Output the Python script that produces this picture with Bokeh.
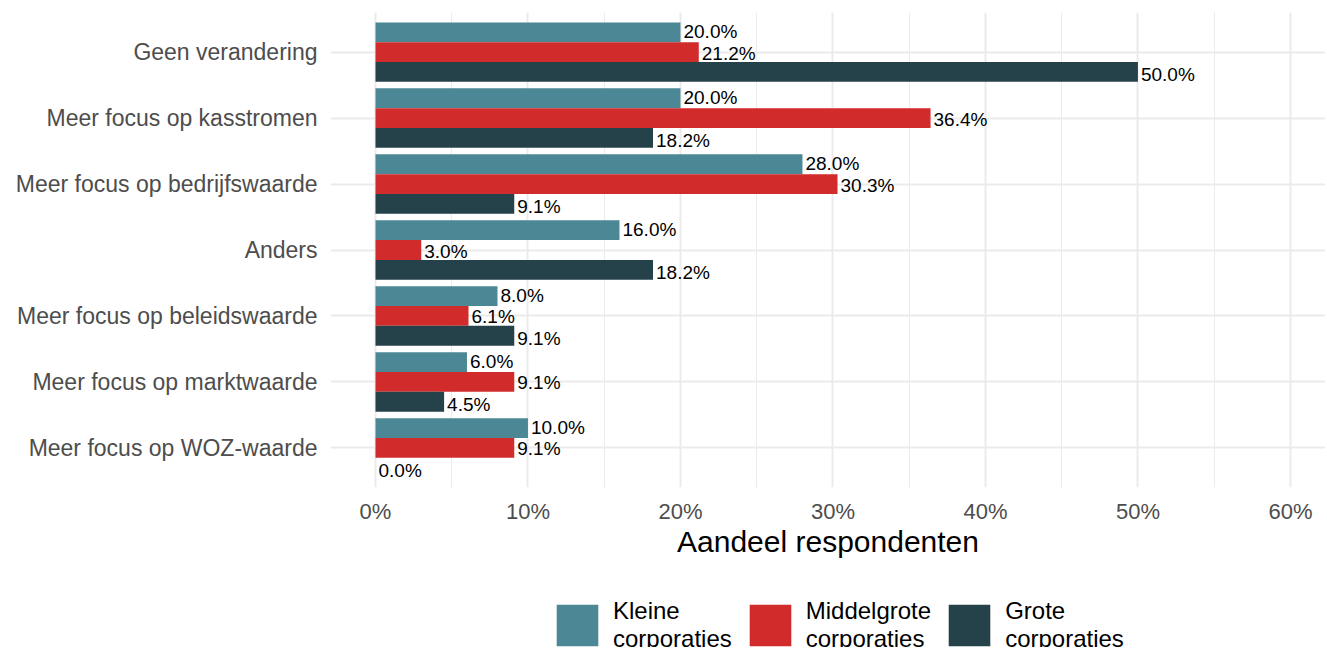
from bokeh.plotting import figure
from bokeh.layouts import column
from bokeh.models import Range1d, FixedTicker, Legend, LegendItem, ColumnDataSource
from bokeh.core.properties import value
from bokeh.embed import file_html
from bokeh.resources import INLINE

categories = [
    "Geen verandering",
    "Meer focus op kasstromen",
    "Meer focus op bedrijfswaarde",
    "Anders",
    "Meer focus op beleidswaarde",
    "Meer focus op marktwaarde",
    "Meer focus op WOZ-waarde",
]
kleine = [20.0, 20.0, 28.0, 16.0, 8.0, 6.0, 10.0]
middelgrote = [21.2, 36.4, 30.3, 3.0, 6.1, 9.1, 9.1]
grote = [50.0, 18.2, 9.1, 18.2, 9.1, 4.5, 0.0]
series_labels = ["Kleine\ncorporaties", "Middelgrote\ncorporaties", "Grote\ncorporaties"]
colors = ["#4B8794", "#D12B2B", "#25424A"]
x_ticks = [0, 10, 20, 30, 40, 50, 60]
x_minor = [5, 15, 25, 35, 45, 55]
x_tick_labels = ["0%", "10%", "20%", "30%", "40%", "50%", "60%"]

FONT = "Liberation Sans"
n = len(categories)
ypos = [n - i for i in range(n)]
W = 1325

p = figure(width=W, height=580, output_backend="svg", toolbar_location=None,
           x_range=Range1d(-2.95, 62.3), y_range=Range1d(0.4, n + 0.6),
           min_border_left=330, min_border_right=0, min_border_top=12,
           min_border_bottom=93)
p.outline_line_color = None
p.background_fill_color = "white"
p.border_fill_color = "white"

bar_h = 0.3
offsets = [bar_h, 0.0, -bar_h]
label_offsets = [0.33, 0.0, -0.33]
for vals, off, loff, col in zip([kleine, middelgrote, grote], offsets, label_offsets, colors):
    src = ColumnDataSource(dict(
        y=[yy + off for yy in ypos],
        ly=[yy + loff for yy in ypos],
        v=vals,
        lab=[f"{x:.1f}%" for x in vals],
    ))
    p.hbar(y="y", left=0, right="v", height=bar_h, source=src,
           fill_color=col, line_color=None)
    p.text(x="v", y="ly", text="lab", source=src, x_offset=3, y_offset=1,
           text_baseline="middle", text_align="left",
           text_font=value(FONT), text_font_size="19px", text_color="black")

# axes
p.xaxis.ticker = FixedTicker(ticks=x_ticks)
p.xaxis.major_label_overrides = {t: l for t, l in zip(x_ticks, x_tick_labels)}
p.yaxis.ticker = FixedTicker(ticks=ypos)
p.yaxis.major_label_overrides = {y: c for y, c in zip(ypos, categories)}
for ax in (p.xaxis, p.yaxis):
    ax.axis_line_color = None
    ax.major_tick_line_color = None
    ax.minor_tick_line_color = None
    ax.major_label_text_font = FONT
    ax.major_label_text_color = "#4D4D4D"
p.xaxis.major_label_text_font_size = "22px"
p.yaxis.major_label_text_font_size = "23px"
p.xaxis.major_label_standoff = 5
p.yaxis.major_label_standoff = 7
p.xaxis.axis_label = "Aandeel respondenten"
p.xaxis.axis_label_text_font = FONT
p.xaxis.axis_label_text_font_size = "30px"
p.xaxis.axis_label_text_font_style = "normal"
p.xaxis.axis_label_text_color = "black"
p.xaxis.axis_label_standoff = -2

# grid
p.xgrid.ticker = FixedTicker(ticks=x_ticks, minor_ticks=x_minor)
p.xgrid.grid_line_color = "#EBEBEB"
p.xgrid.grid_line_width = 2
p.xgrid.minor_grid_line_color = "#EBEBEB"
p.xgrid.minor_grid_line_width = 1
p.ygrid.ticker = FixedTicker(ticks=ypos)
p.ygrid.grid_line_color = "#EBEBEB"
p.ygrid.grid_line_width = 2

# legend panel
lg = figure(width=W, height=67, output_backend="svg", toolbar_location=None,
            x_range=Range1d(0, 1), y_range=Range1d(0, 1),
            x_axis_type=None, y_axis_type=None, min_border=0)
lg.outline_line_color = None
lg.xgrid.visible = False
lg.ygrid.visible = False
items = []
for lab, col in zip(series_labels, colors):
    r = lg.hbar(y=[0.5], left=[0], right=[0], height=0.3, fill_color=col, line_color=None)
    items.append(LegendItem(label=lab, renderers=[r]))
legend = Legend(items=items, orientation="horizontal", location=(221, -6),
                glyph_width=52, glyph_height=52, label_standoff=10, spacing=12,
                label_text_font=FONT, label_text_font_size="24px", label_text_color="black",
                label_text_line_height=0.75,
                padding=0, margin=0, border_line_color=None, background_fill_alpha=0)
lg.add_layout(legend)

layout = column(p, lg, spacing=0)
open("out.html", "w").write(file_html(layout, INLINE))
